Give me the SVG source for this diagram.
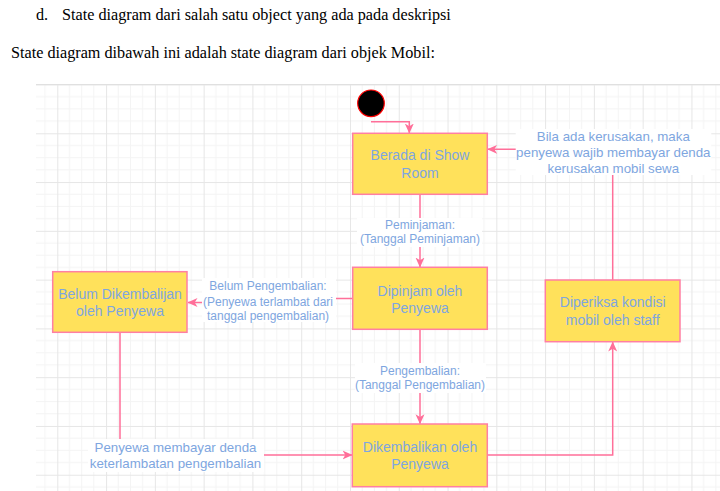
<svg xmlns="http://www.w3.org/2000/svg" width="720" height="491" viewBox="0 0 720 491">
<defs>
<pattern id="grid" x="8.52" y="84.5" width="48.78" height="48.78" patternUnits="userSpaceOnUse">
<path d="M12.2 0V48.78M24.39 0V48.78M36.58 0V48.78M0 12.2H48.78M0 24.39H48.78M0 36.58H48.78" stroke="#f4f4f4" stroke-width="1" fill="none"/>
<path d="M0.5 0V48.78M0 0.5H48.78" stroke="#e6e6e6" stroke-width="1" fill="none"/>
</pattern>
<marker id="arr" viewBox="0 0 10 10" refX="9.5" refY="5" markerWidth="10" markerHeight="10" markerUnits="userSpaceOnUse" orient="auto">
<path d="M0,0.5 L10,5 L0,9.5 L2.8,5 Z" fill="#ff6f99"/>
</marker>
</defs>
<style>
.hdr{font-family:"Liberation Serif","Times New Roman",serif;font-size:16.2px;fill:#000}
.box{fill:#ffe15b;stroke:#ff7fa3;stroke-width:1.5}
.nt{font-family:"Liberation Sans",Arial,sans-serif;font-size:14px;fill:#7ea6e0;text-anchor:middle}
.el{font-family:"Liberation Sans",Arial,sans-serif;font-size:12px;fill:#7ea6e0;text-anchor:middle}
.el2{font-family:"Liberation Sans",Arial,sans-serif;font-size:13.3px;fill:#7ea6e0;text-anchor:middle}
.e{fill:none;stroke:#ff6f99;stroke-width:1.5}
.lbg{fill:#fff}
</style>
<rect width="720" height="491" fill="#fff"/>
<text class="hdr" x="36" y="20">d.</text>
<text class="hdr" x="62" y="20">State diagram dari salah satu object yang ada pada deskripsi</text>
<text class="hdr" x="11" y="58">State diagram dibawah ini adalah state diagram dari objek Mobil:</text>
<rect x="36" y="84" width="684" height="407" fill="url(#grid)"/>
<line x1="36" y1="84.5" x2="720" y2="84.5" stroke="#e0e0e0" stroke-width="1"/>
<g id="connectors">
<path class="e" d="M371 121.7H409.3V133" marker-end="url(#arr)"/>
<path class="e" d="M420 194.3V267" marker-end="url(#arr)"/>
<path class="e" d="M352.7 298.5H270V302.5H188" marker-end="url(#arr)"/>
<path class="e" d="M420 329.3V423.7" marker-end="url(#arr)"/>
<path class="e" d="M120 332.3V455H352" marker-end="url(#arr)"/>
<path class="e" d="M487.3 455H612.7V342" marker-end="url(#arr)"/>
<path class="e" d="M612.7 280V149.3H487.7" marker-end="url(#arr)"/>
<rect class="lbg" x="357" y="218" width="125" height="29"/>
<text class="el" x="420" y="229">Peminjaman:</text>
<text class="el" x="420" y="243.3">(Tanggal Peminjaman)</text>
<rect class="lbg" x="355" y="363" width="131" height="30"/>
<text class="el" x="420" y="374.7">Pengembalian:</text>
<text class="el" x="420" y="389">(Tanggal Pengembalian)</text>
<rect class="lbg" x="202" y="278" width="134" height="44"/>
<text class="el" x="268" y="290">Belum Pengembalian:</text>
<text class="el" x="268" y="305.5">(Penyewa terlambat dari</text>
<text class="el" x="268" y="319.5">tanggal pengembalian)</text>
<rect class="lbg" x="88" y="439" width="176" height="33"/>
<text class="el2" x="175.5" y="452">Penyewa membayar denda</text>
<text class="el2" x="175.5" y="467.5">keterlambatan pengembalian</text>
<rect class="lbg" x="515.7" y="129" width="195.6" height="46"/>
<text class="el2" x="613.3" y="141.3">Bila ada kerusakan, maka</text>
<text class="el2" x="613.3" y="157.3">penyewa wajib membayar denda</text>
<text class="el2" x="613.3" y="173.3">kerusakan mobil sewa</text>
</g>
<g id="start">
<circle cx="371" cy="103.3" r="13.3" fill="#000" stroke="#ff0000" stroke-width="1.2"/>
</g>
<g id="berada">
<rect class="box" x="352.7" y="133.3" width="134.6" height="61"/>
<text class="nt" x="420" y="160">Berada di Show</text>
<text class="nt" x="420" y="178.3">Room</text>
</g>
<g id="dipinjam">
<rect class="box" x="352.7" y="267.3" width="134.6" height="62"/>
<text class="nt" x="420" y="295.7">Dipinjam oleh</text>
<text class="nt" x="420" y="313.3">Penyewa</text>
</g>
<g id="belum">
<rect class="box" x="52.7" y="271.7" width="134.3" height="60.6"/>
<text class="nt" x="120" y="299.3">Belum Dikembalijan</text>
<text class="nt" x="120" y="316">oleh Penyewa</text>
</g>
<g id="diperiksa">
<rect class="box" x="545.3" y="280" width="134.7" height="61.7"/>
<text class="nt" x="612.7" y="307.3">Diperiksa kondisi</text>
<text class="nt" x="612.7" y="325">mobil oleh staff</text>
</g>
<g id="dikembalikan">
<rect class="box" x="352.3" y="424" width="135" height="62.7"/>
<text class="nt" x="420" y="451.7">Dikembalikan oleh</text>
<text class="nt" x="420" y="469">Penyewa</text>
</g>
</svg>
